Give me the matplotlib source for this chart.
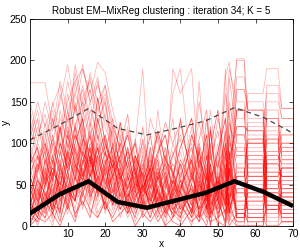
import matplotlib
matplotlib.use("Agg")
import matplotlib.pyplot as plt
import numpy as np

plt.rcParams['font.family'] = ['Liberation Sans', 'DejaVu Sans']

# grid of x positions at which the red curves are sampled
x_left = [0, 2, 4, 6, 8, 10, 12, 14, 16, 18, 20, 22, 24, 26, 28, 30, 32, 34, 36, 38]
x_right = [40, 43, 45, 47, 48, 50, 52, 53, 55, 57, 58, 62, 63, 66, 67, 70]
x_grid = x_left + x_right

red_y = [
    [12, 35, 8, 60, 25, 80, 40, 95, 30, 70, 15, 55, 10, 40, 5, 30, 20, 45, 10, 35, 60, 15, 40, 5, 30, 20, 45, 10, 0, 0, 60, 60, 10, 10, 80, 80],
    [45, 20, 70, 30, 90, 55, 120, 60, 85, 40, 65, 25, 50, 35, 60, 15, 40, 25, 55, 20, 10, 50, 20, 60, 15, 35, 0, 70, 40, 40, 20, 20, 55, 55, 45, 45],
    [5, 60, 25, 45, 15, 100, 70, 130, 50, 95, 35, 75, 45, 20, 55, 30, 10, 35, 0, 50, 30, 0, 55, 25, 70, 10, 60, 30, 75, 75, 100, 100, 30, 30, 10, 10],
    [30, 10, 50, 85, 40, 65, 30, 75, 110, 55, 90, 40, 70, 15, 35, 50, 25, 60, 30, 15, 45, 80, 10, 40, 0, 55, 25, 90, 15, 15, 5, 5, 75, 75, 60, 60],
    [70, 40, 95, 20, 55, 30, 85, 45, 70, 25, 45, 90, 30, 55, 20, 40, 65, 15, 45, 70, 20, 35, 70, 15, 50, 80, 40, 5, 55, 55, 85, 85, 0, 0, 30, 30],
    [20, 85, 45, 110, 70, 140, 90, 60, 100, 75, 30, 60, 85, 45, 70, 25, 55, 80, 20, 40, 75, 25, 5, 65, 35, 0, 85, 45, 20, 20, 40, 40, 90, 90, 100, 100],
    [90, 55, 30, 75, 120, 80, 150, 100, 65, 120, 80, 50, 25, 65, 40, 85, 35, 10, 60, 25, 5, 60, 35, 85, 20, 45, 15, 60, 95, 95, 70, 70, 20, 20, 5, 5],
    [0, 25, 60, 15, 45, 20, 60, 35, 80, 50, 20, 35, 65, 30, 10, 55, 80, 40, 25, 55, 35, 10, 80, 30, 60, 25, 70, 20, 45, 45, 15, 15, 60, 60, 70, 70],
    [55, 100, 80, 130, 95, 160, 115, 170, 130, 90, 110, 70, 95, 55, 80, 45, 60, 30, 85, 40, 90, 40, 60, 20, 85, 50, 110, 30, 65, 65, 125, 125, 40, 40, 50, 50],
    [100, 65, 115, 50, 140, 95, 175, 120, 150, 105, 135, 80, 60, 90, 50, 75, 35, 65, 45, 90, 55, 120, 30, 70, 45, 100, 20, 140, 35, 35, 55, 55, 130, 130, 25, 25],
    [35, 15, 40, 5, 30, 50, 20, 65, 15, 45, 60, 20, 40, 70, 30, 60, 15, 50, 70, 30, 65, 30, 45, 55, 10, 65, 35, 50, 25, 25, 30, 30, 45, 45, 20, 20],
    [150, 110, 135, 95, 160, 125, 185, 140, 165, 120, 155, 80, 60, 95, 45, 75, 40, 70, 30, 55, 40, 85, 35, 70, 20, 60, 25, 60, 180, 180, 140, 140, 60, 60, 90, 90],
    [105, 140, 90, 150, 110, 175, 135, 190, 150, 180, 120, 90, 55, 80, 30, 65, 20, 50, 15, 45, 70, 30, 55, 15, 40, 10, 45, 100, 200, 200, 110, 110, 75, 75, 110, 110],
    [173, 173, 173, 120, 150, 195, 140, 165, 120, 175, 130, 110, 75, 120, 60, 95, 50, 140, 70, 160, 190, 60, 175, 45, 90, 30, 180, 198, 130, 130, 160, 160, 190, 190, 142, 142],
    [25, 50, 15, 40, 75, 35, 95, 55, 125, 70, 105, 55, 80, 35, 65, 20, 45, 70, 15, 45, 25, 70, 15, 50, 25, 40, 55, 15, 70, 70, 0, 0, 35, 35, 40, 40],
    [60, 30, 80, 55, 100, 70, 110, 85, 60, 95, 50, 80, 35, 60, 25, 45, 70, 20, 40, 10, 40, 20, 50, 35, 75, 30, 5, 80, 10, 10, 75, 75, 25, 25, 15, 15],
    [10, 5, 20, 0, 35, 15, 45, 25, 55, 30, 70, 45, 20, 50, 60, 35, 50, 25, 35, 60, 15, 45, 25, 10, 40, 15, 30, 65, 5, 5, 50, 50, 5, 5, 65, 65],
    [80, 120, 100, 75, 130, 105, 160, 130, 185, 150, 170, 125, 90, 60, 85, 40, 70, 30, 55, 25, 50, 15, 45, 20, 70, 35, 45, 10, 60, 60, 95, 95, 150, 150, 130, 130],
    [40, 75, 55, 95, 65, 115, 85, 140, 105, 80, 95, 115, 70, 90, 75, 100, 60, 85, 50, 100, 70, 100, 55, 90, 60, 75, 95, 55, 85, 85, 90, 90, 110, 110, 85, 85],
    [15, 40, 30, 65, 50, 85, 60, 105, 90, 60, 40, 100, 55, 80, 45, 70, 110, 55, 75, 50, 130, 55, 90, 45, 95, 140, 60, 110, 50, 50, 65, 65, 85, 85, 75, 75],
    [130, 90, 60, 100, 85, 130, 105, 155, 175, 140, 160, 120, 70, 45, 65, 30, 50, 20, 45, 190, 160, 190, 60, 30, 55, 20, 40, 15, 140, 140, 150, 150, 120, 120, 100, 100],
    [90, 60, 125, 85, 110, 150, 175, 190, 160, 198, 185, 140, 105, 70, 85, 50, 65, 35, 30, 60, 35, 80, 40, 100, 25, 60, 190, 75, 202, 202, 130, 130, 100, 100, 120, 120],
    [50, 30, 45, 25, 60, 40, 80, 50, 95, 45, 75, 30, 110, 60, 35, 90, 45, 75, 30, 20, 50, 25, 65, 40, 20, 55, 10, 40, 30, 30, 35, 35, 50, 50, 55, 55],
    [20, 15, 35, 25, 20, 60, 35, 80, 45, 110, 60, 85, 50, 95, 40, 65, 30, 55, 95, 35, 80, 50, 100, 60, 120, 35, 75, 25, 110, 110, 80, 80, 40, 40, 35, 35],
    [65, 85, 55, 130, 90, 120, 80, 100, 140, 110, 85, 130, 90, 70, 105, 55, 130, 100, 65, 85, 110, 75, 150, 90, 70, 130, 85, 150, 100, 100, 45, 45, 140, 140, 90, 90],
    [5, 20, 10, 30, 5, 45, 15, 30, 10, 50, 25, 10, 30, 15, 45, 10, 25, 5, 20, 5, 0, 20, 5, 25, 5, 10, 20, 0, 15, 15, 10, 10, 0, 0, 5, 5],
    [140, 100, 150, 115, 175, 140, 160, 195, 150, 170, 145, 95, 120, 60, 100, 190, 45, 80, 30, 65, 20, 50, 15, 40, 10, 35, 120, 190, 150, 150, 100, 100, 170, 170, 142, 142],
    [25, 55, 40, 20, 70, 45, 30, 90, 70, 130, 90, 60, 85, 110, 65, 35, 60, 90, 110, 60, 95, 130, 70, 110, 55, 90, 130, 80, 120, 120, 115, 115, 65, 65, 60, 60],
    [85, 45, 20, 55, 35, 75, 125, 75, 115, 65, 100, 75, 45, 30, 50, 80, 40, 30, 80, 130, 45, 85, 125, 80, 100, 70, 160, 130, 70, 70, 25, 25, 100, 100, 110, 110],
    [35, 65, 90, 40, 15, 90, 55, 120, 35, 85, 110, 65, 100, 70, 55, 105, 65, 110, 55, 75, 60, 95, 45, 130, 90, 45, 115, 35, 165, 165, 140, 140, 55, 55, 25, 25],
    [110, 150, 120, 145, 170, 110, 195, 145, 180, 125, 150, 100, 80, 55, 70, 40, 60, 25, 50, 30, 15, 40, 10, 35, 20, 45, 30, 180, 110, 110, 120, 120, 160, 160, 130, 130],
    [0, 10, 5, 15, 0, 25, 5, 40, 20, 10, 30, 5, 15, 25, 0, 15, 5, 20, 0, 10, 25, 5, 15, 0, 20, 5, 0, 30, 0, 0, 0, 0, 25, 25, 10, 10],
    [45, 25, 65, 35, 80, 20, 55, 100, 40, 60, 20, 45, 75, 40, 20, 50, 85, 30, 10, 40, 20, 60, 35, 75, 30, 90, 40, 55, 20, 20, 55, 55, 20, 20, 45, 45],
    [75, 95, 50, 70, 45, 110, 75, 55, 95, 35, 75, 95, 60, 25, 85, 60, 20, 45, 65, 25, 55, 15, 95, 20, 65, 30, 90, 15, 60, 60, 105, 105, 45, 45, 70, 70],
    [30, 0, 25, 50, 10, 40, 95, 65, 25, 80, 55, 30, 20, 55, 80, 40, 75, 55, 40, 85, 105, 40, 20, 60, 10, 75, 50, 100, 85, 85, 70, 70, 115, 115, 5, 5],
    [120, 80, 105, 140, 100, 85, 120, 150, 110, 135, 170, 105, 75, 115, 85, 60, 90, 40, 30, 55, 30, 75, 60, 100, 140, 60, 20, 90, 30, 30, 40, 40, 70, 70, 55, 55],
    [60, 35, 75, 10, 60, 25, 70, 20, 65, 15, 35, 70, 40, 10, 30, 70, 30, 60, 85, 45, 75, 35, 55, 10, 45, 20, 65, 25, 40, 40, 85, 85, 35, 35, 20, 20],
    [15, 45, 20, 80, 30, 55, 10, 45, 85, 50, 80, 25, 60, 45, 75, 25, 95, 40, 15, 35, 10, 65, 30, 85, 35, 60, 30, 70, 10, 10, 30, 30, 80, 80, 95, 95],
    [95, 130, 75, 105, 60, 90, 145, 110, 60, 100, 65, 120, 95, 135, 60, 120, 55, 85, 125, 100, 125, 60, 105, 140, 80, 115, 55, 125, 90, 90, 100, 100, 130, 130, 80, 80],
    [40, 70, 100, 60, 120, 65, 100, 130, 75, 155, 100, 70, 125, 80, 100, 45, 70, 115, 80, 65, 40, 110, 80, 55, 115, 40, 100, 60, 140, 140, 60, 60, 105, 105, 35, 35],
    [8, 30, 15, 50, 20, 35, 60, 25, 45, 10, 30, 15, 40, 20, 55, 25, 35, 10, 30, 15, 5, 30, 10, 20, 45, 15, 35, 5, 30, 30, 20, 20, 40, 40, 15, 15],
    [25, 10, 40, 20, 65, 45, 30, 70, 35, 55, 25, 65, 30, 45, 15, 35, 10, 45, 20, 45, 40, 10, 30, 45, 15, 25, 50, 20, 5, 5, 45, 45, 15, 15, 30, 30],
    [50, 75, 35, 60, 40, 90, 65, 110, 80, 40, 70, 35, 55, 25, 40, 20, 55, 30, 60, 35, 55, 25, 60, 30, 50, 15, 40, 45, 65, 65, 35, 35, 60, 60, 50, 50],
    [15, 5, 30, 15, 45, 25, 75, 40, 60, 85, 45, 60, 20, 35, 50, 45, 30, 65, 35, 20, 30, 45, 20, 35, 55, 40, 15, 35, 50, 50, 10, 10, 20, 20, 40, 40],
]

# cluster centres (piecewise-linear)
knots_x = [0, 7.8, 15.6, 23.3, 31.1, 38.9, 46.7, 54.4, 62.2, 70]
centre_solid = [15, 38, 54, 29, 22, 31, 40, 54, 41, 24]
centre_dashed = [104, 122, 142, 118, 110, 118, 127, 143, 131, 112]

xticks = [10, 20, 30, 40, 50, 60, 70]
yticks = [0, 50, 100, 150, 200, 250]

fig = plt.figure(figsize=(3.0, 2.48), dpi=100)
ax = fig.add_axes([0.10, 0.089, 0.877, 0.834])

alphas = [0.35, 0.58, 0.42, 0.72, 0.32, 0.5]
for i, row in enumerate(red_y):
    if len(row) != len(x_grid):
        raise ValueError(f"row {i} has {len(row)} values")
    a = 0.3 if max(row) > 165 else alphas[i % len(alphas)]
    ax.plot(x_grid, row, color='red', lw=0.55, alpha=a)

ax.plot(knots_x, centre_dashed, color='#444444', lw=0.9, ls=(0, (4, 3)))
ax.plot(knots_x, centre_solid, color='black', lw=3.2, solid_capstyle='butt')

ax.set_xlim(0, 70)
ax.set_ylim(0, 250)
ax.set_xticks(xticks)
ax.set_yticks(yticks)
ax.tick_params(direction='in', top=True, right=True, labelsize=7.5, length=3, width=0.5, pad=2)
for s in ax.spines.values():
    s.set_linewidth(0.6)
ax.set_xlabel('x', fontsize=7.5, labelpad=0)
ax.set_ylabel('y', fontsize=7.5)
ax.yaxis.set_label_coords(-0.072, 0.5)
ax.set_title('Robust EM\u2013MixReg clustering : iteration 34; K = 5', fontsize=7.1, pad=4)

fig.savefig('out.png', dpi=100)
